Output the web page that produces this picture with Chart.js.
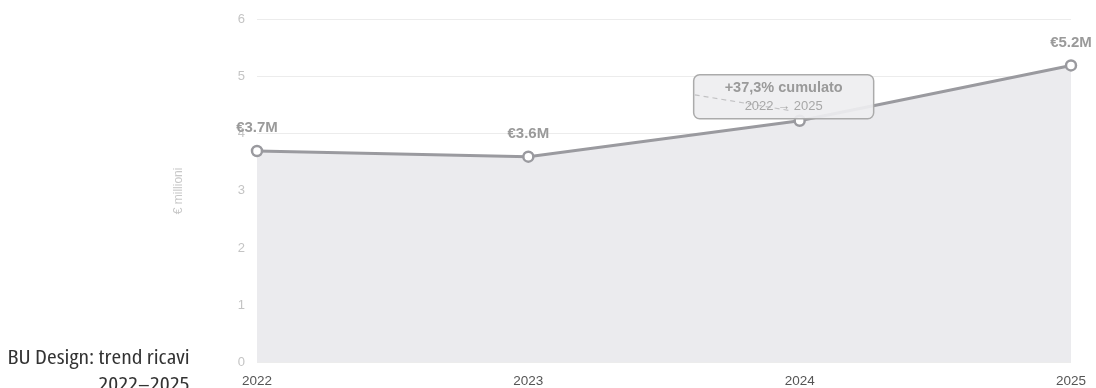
<!DOCTYPE html>
<html lang="it">
<head>
<meta charset="utf-8">
<title>BU Design: trend ricavi 2022–2025</title>
<script src="https://cdn.jsdelivr.net/npm/chart.js@4/dist/chart.umd.min.js"></script>
<style>
  html, body { margin: 0; padding: 0; background: #fff; }
  #wrap { position: relative; width: 1096px; height: 388px; overflow: hidden; }
  #chart-box { position: absolute; left: 0; top: 0; width: 1096px; height: 388px; }
  #side-title {
    position: absolute; right: 906px; top: 343px;
    text-align: right; white-space: nowrap;
    font-family: "Open Sans", "DejaVu Sans Condensed", sans-serif;
    font-stretch: condensed; font-weight: 400;
    font-size: 20px; line-height: 27px; color: #333;
    transform: scaleX(1.17); transform-origin: right top;
  }
</style>
</head>
<body>
<div id="wrap">
  <div id="chart-box"><canvas id="revenue"></canvas></div>
  <div id="side-title">BU Design: trend ricavi<br>2022–2025</div>
</div>
<script>
// Revenue of the Design BU, millions of euro
const YEARS = ['2022', '2023', '2024', '2025'];
const REVENUE = [3.7, 3.6, 4.23, 5.2];
const SHOW_VALUE = [true, true, false, true];
const Y_TICKS = [0, 1, 2, 3, 4, 5, 6];
const GROWTH_TEXT = '+37,3% cumulato';
const GROWTH_SPAN = '2022 → 2025';

const FONT = '"Liberation Sans", Arial, sans-serif';

// value labels above the points
const valueLabels = {
    id: 'valueLabels',
    afterDatasetsDraw(chart) {
        const ctx = chart.ctx;
        const meta = chart.getDatasetMeta(0);
        ctx.save();
        ctx.font = 'bold 15px ' + FONT;
        ctx.fillStyle = '#9a9a9a';
        ctx.textAlign = 'center';
        ctx.textBaseline = 'middle';
        meta.data.forEach((pt, i) => {
            if (!SHOW_VALUE[i]) return;
            ctx.fillText('€' + REVENUE[i].toFixed(1) + 'M', pt.x, pt.y - 23);
        });
        ctx.restore();
    }
};

// callout with the cumulated growth
const growthBox = {
    id: 'growthBox',
    afterDraw(chart) {
        const ctx = chart.ctx;
        const x = chart.scales.x, y = chart.scales.y;
        const w = 180, h = 44;
        const cx = x.getPixelForValue(2) - 16;
        const left = cx - w / 2;
        const top = y.getPixelForValue(5) - 2;
        ctx.save();
        ctx.beginPath();
        ctx.roundRect(left, top, w, h, 6);
        ctx.fillStyle = 'rgba(238, 238, 240, 0.92)';
        ctx.fill();
        ctx.lineWidth = 1.5;
        ctx.strokeStyle = '#ababab';
        ctx.stroke();

        ctx.beginPath();
        ctx.setLineDash([5, 4]);
        ctx.moveTo(left + 1, top + 20);
        ctx.lineTo(cx + 8, top + 36);
        ctx.lineWidth = 1.2;
        ctx.strokeStyle = '#c2c2c4';
        ctx.stroke();
        ctx.setLineDash([]);

        ctx.textAlign = 'center';
        ctx.textBaseline = 'middle';
        ctx.font = 'bold 14.5px ' + FONT;
        ctx.fillStyle = '#9a9a9a';
        ctx.fillText(GROWTH_TEXT, cx, top + 13);
        ctx.font = '13px ' + FONT;
        ctx.fillStyle = '#a8a8a8';
        ctx.fillText(GROWTH_SPAN, cx, top + 32);
        ctx.restore();
    }
};

new Chart(document.getElementById('revenue'), {
    type: 'line',
    data: {
        labels: YEARS,
        datasets: [{
            data: REVENUE,
            borderColor: '#9a9a9f',
            borderWidth: 3,
            backgroundColor: '#ebebee',
            fill: 'origin',
            tension: 0,
            pointRadius: 5,
            pointBorderWidth: 2.5,
            pointBackgroundColor: '#fff',
            pointBorderColor: '#9a9a9f'
        }]
    },
    options: {
        responsive: true,
        maintainAspectRatio: false,
        animation: false,
        layout: { padding: { left: 167, top: 12, right: 25, bottom: 0 } },
        plugins: {
            legend: { display: false },
            tooltip: { enabled: false }
        },
        scales: {
            x: {
                offset: false,
                grid: { display: false },
                border: { display: false },
                afterFit(scale) { scale.height = 26; },
                ticks: {
                    color: '#555',
                    padding: 3,
                    maxRotation: 0,
                    font: { family: FONT, size: 13.5 }
                }
            },
            y: {
                min: 0,
                max: 6,
                afterBuildTicks(scale) {
                    scale.ticks = Y_TICKS.map(v => ({ value: v }));
                },
                afterFit(scale) { scale.width = 90; },
                grid: { color: '#ececec', drawTicks: false },
                border: { display: false },
                ticks: {
                    color: '#c4c4c4',
                    padding: 12,
                    font: { family: FONT, size: 13 }
                },
                title: {
                    display: true,
                    text: '€ millioni',
                    color: '#c8c8c8',
                    font: { family: FONT, size: 12 }
                }
            }
        }
    },
    plugins: [valueLabels, growthBox]
});
</script>
</body>
</html>
